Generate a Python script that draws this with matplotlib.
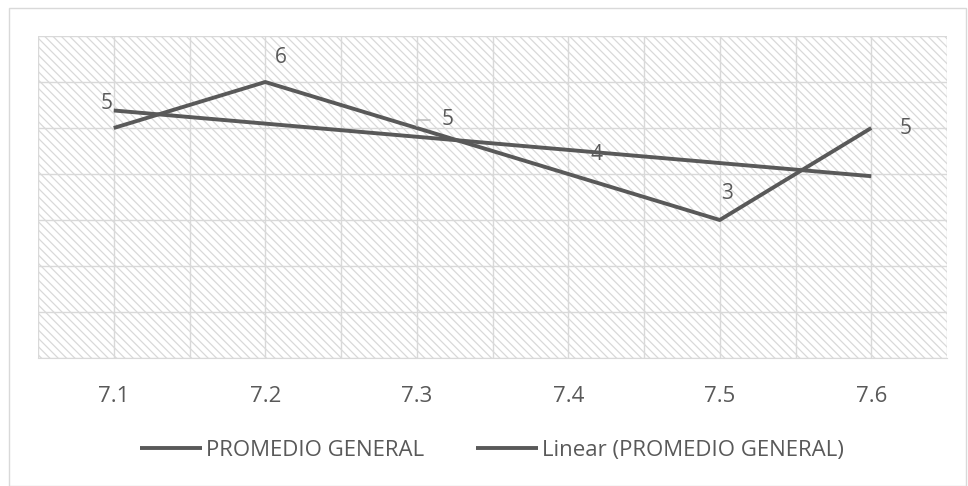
import numpy as np
import matplotlib
matplotlib.use("Agg")
import matplotlib.pyplot as plt
from matplotlib.patches import Rectangle

# datos
categorias = ["7.1", "7.2", "7.3", "7.4", "7.5", "7.6"]
promedio = [5, 6, 5, 4, 3, 5]

gris = "#595959"
rejilla = "#d9d9d9"
plt.rcParams["font.family"] = ["Open Sans", "DejaVu Sans"]
plt.rcParams["hatch.linewidth"] = 0.9

fig = plt.figure(figsize=(9.68, 4.86), dpi=100)
ax = fig.add_axes([38 / 968, 1 - 358 / 486, 909 / 968, 322 / 486])

x = np.arange(len(categorias))
# fondo rayado
ax.add_patch(Rectangle((0, 0), 1, 1, transform=ax.transAxes, facecolor="white",
                       edgecolor="#d9d9d9", hatch="\\\\\\\\", linewidth=0, zorder=0))

ax.plot(x, promedio, color=gris, lw=2.8, solid_capstyle="butt", zorder=3,
        label="PROMEDIO GENERAL")
b, a = np.polyfit(x + 1, promedio, 1)
ax.plot(x, a + b * (x + 1), color=gris, lw=2.8, solid_capstyle="butt", zorder=3,
        label="Linear (PROMEDIO GENERAL)")

ax.set_xlim(-0.5, len(categorias) - 0.5)
ax.set_ylim(0, 7)
ax.set_yticks(range(0, 8))
ax.set_xticks(x)
ax.set_xticklabels(categorias)
ax.set_xticks(np.arange(-0.5, len(categorias), 1.0), minor=True)
ax.grid(True, axis="y", color=rejilla, lw=1, zorder=1)
ax.grid(True, axis="x", which="both", color=rejilla, lw=1, zorder=1)
ax.tick_params(axis="both", which="both", length=0)
ax.tick_params(axis="x", labelsize=16, colors=gris, pad=20)
ax.set_yticklabels([])
for lado in ["top", "left", "right"]:
    ax.spines[lado].set_visible(False)
ax.spines["bottom"].set_color(rejilla)

# etiquetas de datos
desplaz = [(-5, 18), (11.5, 17.3), (22, 6), (20, 13.7), (5, 19.4), (25, -0.7)]
for i, (v, d) in enumerate(zip(promedio, desplaz)):
    if i == 2:
        ax.annotate(str(v), (x[i], v), xytext=d, textcoords="offset points",
                    ha="center", va="center", fontsize=15, color=gris,
                    arrowprops=dict(arrowstyle="-", color="#bfbfbf", lw=1.2,
                                    shrinkA=6, shrinkB=1.5,
                                    connectionstyle="angle,angleA=0,angleB=90,rad=0"))
    else:
        ax.annotate(str(v), (x[i], v), xytext=d, textcoords="offset points",
                    ha="center", va="center", fontsize=15, color=gris)

fig.legend(loc="center", bbox_to_anchor=(492 / 968, 1 - 450 / 486), ncol=2, frameon=False,
           fontsize=16, labelcolor=gris, handlelength=2.8, columnspacing=2.3,
           handletextpad=0.2)

fig.patches.append(Rectangle((9 / 968, 0), 957 / 968, 1 - 8 / 486,
                             transform=fig.transFigure, fill=False,
                             edgecolor=rejilla, lw=1))

fig.savefig("out.png", dpi=100)
